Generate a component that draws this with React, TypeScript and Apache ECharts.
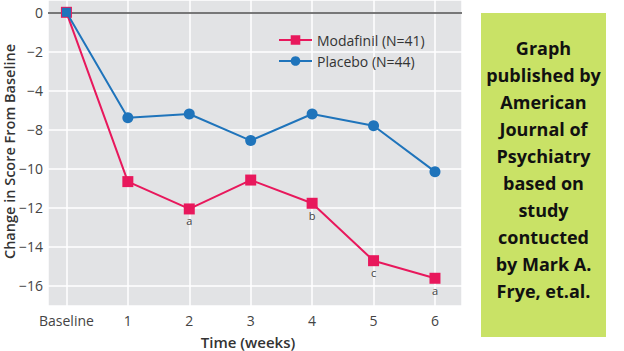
import React, { useEffect, useRef } from "react";
import * as echarts from "echarts";

// x positions (weeks) and their printed labels
const weeks = [0, 1, 2, 3, 4, 5, 6];
const xTickLabels = ["Baseline", "1", "2", "3", "4", "5", "6"];

// The printed y scale skips "−6": gridlines are evenly spaced but labelled
// 0, −2, −4, −8, −10, ... so values below are kept in gridline units.
const yTickValues = [0, -2, -4, -6, -8, -10, -12, -14];
const yTickLabels = ["0", "\u22122", "\u22124", "\u22128", "\u221210", "\u221212", "\u221214", "\u221216"];

const modafinil = [0, -8.67, -10.07, -8.59, -9.78, -12.72, -13.62];
const placebo = [0, -5.4, -5.21, -6.57, -5.21, -5.81, -8.16];
const modafinilNotes = ["", "", "a", "", "b", "c", "a"];

const seriesNames = ["Modafinil (N=41)", "Placebo (N=44)"];
const xAxisTitle = "Time (weeks)";
const yAxisTitle = "Change in Score From Baseline";
const noteLines = [
  "Graph",
  "published by",
  "American",
  "Journal of",
  "Psychiatry",
  "based on",
  "study",
  "contucted",
  "by Mark A.",
  "Frye, et.al.",
];

const FONT = "'Open Sans', 'Noto Sans', sans-serif";

export default function App() {
  const ref = useRef<HTMLDivElement>(null);

  useEffect(() => {
    if (!ref.current) return;
    const chart = echarts.init(ref.current, undefined, { renderer: "svg" });
    const option = {
      animation: false,
      backgroundColor: "#ffffff",
      grid: {
        left: 48,
        top: 0,
        width: 414,
        height: 306,
        show: true,
        containLabel: false,
        outerBoundsMode: "none",
        backgroundColor: "#e2e3e5",
        borderWidth: 0,
      },
      legend: {
        orient: "vertical",
        left: 273,
        top: 27,
        itemWidth: 33,
        itemHeight: 12,
        itemGap: 5,
        textStyle: { fontFamily: FONT, fontSize: 14, lineHeight: 16, color: "#333" },
        data: seriesNames,
      },
      xAxis: {
        type: "value",
        min: -0.3,
        max: 6.44,
        splitNumber: 7,
        axisLine: { show: false },
        axisTick: { show: false },
        splitLine: { show: true, lineStyle: { color: "#ffffff", width: 1.5 } },
        axisLabel: {
          fontFamily: FONT,
          fontSize: 14,
          color: "#444",
          margin: 7,
          showMinLabel: false,
          showMaxLabel: false,
          formatter: (v: number) => {
            const i = weeks.indexOf(Math.round(v * 1000) / 1000);
            return i >= 0 ? xTickLabels[i] : "";
          },
        },
        name: xAxisTitle,
        nameLocation: "middle",
        nameGap: 28,
        nameMoveOverlap: false,
        nameTextStyle: {
          fontFamily: FONT,
          fontSize: 15,
          fontWeight: 600,
          color: "#333",
          padding: [0, 14, 0, 0],
        },
      },
      yAxis: {
        type: "value",
        min: -15.04,
        max: 0.63,
        splitNumber: 8,
        axisLine: { show: false },
        axisTick: { show: false },
        splitLine: { show: true, lineStyle: { color: "#ffffff", width: 1.5 } },
        axisLabel: {
          fontFamily: FONT,
          fontSize: 14,
          color: "#444",
          margin: 5,
          formatter: (v: number) => {
            const i = yTickValues.indexOf(Math.round(v * 1000) / 1000);
            return i >= 0 ? yTickLabels[i] : "";
          },
        },
        name: yAxisTitle,
        nameLocation: "middle",
        nameGap: 31,
        nameMoveOverlap: false,
        nameTextStyle: {
          fontFamily: FONT,
          fontSize: 14.5,
          fontWeight: 600,
          color: "#333",
          padding: [0, 0, 0, 3],
        },
      },
      series: [
        {
          name: seriesNames[0],
          type: "line",
          data: weeks.map((w, i) => ({
            value: [w, modafinil[i]],
            label: {
              show: modafinilNotes[i] !== "",
              formatter: modafinilNotes[i],
            },
          })),
          symbol: "rect",
          symbolSize: 11,
          color: "#e8185c",
          lineStyle: { width: 2, color: "#e8185c" },
          itemStyle: { color: "#e8185c" },
          label: {
            position: "bottom",
            distance: 1,
            fontFamily: FONT,
            fontSize: 11,
            color: "#444",
          },
          z: 3,
          markLine: {
            silent: true,
            symbol: ["none", "none"],
            label: { show: false },
            lineStyle: { color: "#4d4d4d", width: 1.5, type: "solid" },
            data: [{ yAxis: 0 }],
            z: 1,
          },
        },
        {
          name: seriesNames[1],
          type: "line",
          data: weeks.map((w, i) =>
            i === 0
              ? { value: [w, placebo[i]], symbol: "rect", symbolSize: 9 }
              : { value: [w, placebo[i]] }
          ),
          symbol: "circle",
          symbolSize: 11,
          color: "#1f74bb",
          lineStyle: { width: 2, color: "#1f74bb" },
          itemStyle: { color: "#1f74bb" },
          z: 4,
        },
      ],
      graphic: [
        {
          type: "rect",
          shape: { x: 481, y: 13, width: 125, height: 324 },
          style: { fill: "#c9e266" },
          z: 10,
        },
        {
          type: "text",
          x: 543.5,
          y: 34.5,
          z: 11,
          style: {
            text: noteLines.join("\n"),
            fill: "#111",
            font: "bold 18px " + FONT,
            lineHeight: 27,
            textAlign: "center",
            textVerticalAlign: "top",
          },
        },
      ],
    };
    chart.setOption(option as any);
    return () => chart.dispose();
  }, []);

  return (
    <div
      ref={ref}
      style={{ position: "fixed", left: 0, top: 0, width: 624, height: 351 }}
    />
  );
}
